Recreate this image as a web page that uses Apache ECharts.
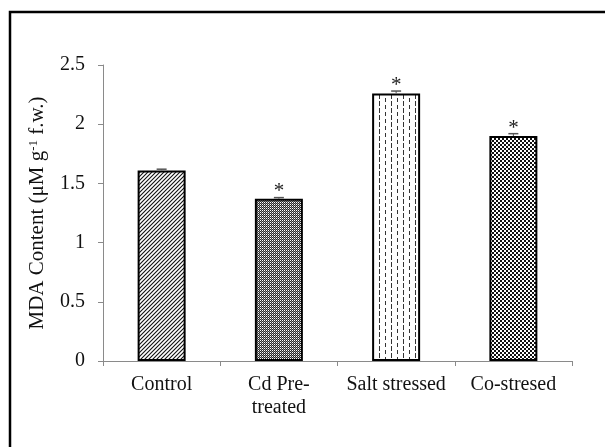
<!DOCTYPE html>
<html>
<head>
<meta charset="utf-8">
<script src="https://cdn.jsdelivr.net/npm/echarts@6/dist/echarts.min.js"></script>
<style>
  html, body { margin: 0; padding: 0; background: #fff; }
  #chart { width: 605px; height: 447px; }
</style>
</head>
<body>
<div id="chart"></div>
<script>
const categories = ['Control', 'Cd Pre-\ntreated', 'Salt stressed', 'Co-stresed'];
const mdaValues = [1.61, 1.37, 2.26, 1.90];
const mdaErrors = [0.01, 0.01, 0.02, 0.02];
const significance = ['', '*', '*', '*'];
const yTicks = [0, 0.5, 1, 1.5, 2, 2.5];

const serif = '"Liberation Serif", "Times New Roman", serif';

// small canvases used as fill patterns for the bars
function tile(w, h, draw) {
  const c = document.createElement('canvas');
  c.width = w;
  c.height = h;
  const ctx = c.getContext('2d');
  ctx.fillStyle = '#fff';
  ctx.fillRect(0, 0, w, h);
  draw(ctx);
  return { image: c, repeat: 'repeat' };
}

const patterns = [
  // diagonal hatch
  tile(4, 4, ctx => {
    ctx.strokeStyle = '#111';
    ctx.lineWidth = 1.1;
    ctx.beginPath();
    ctx.moveTo(-1, 5); ctx.lineTo(5, -1);
    ctx.moveTo(-3, 3); ctx.lineTo(3, -3);
    ctx.moveTo(1, 7); ctx.lineTo(7, 1);
    ctx.stroke();
  }),
  // fine dark dots
  tile(2, 2, ctx => {
    ctx.fillStyle = '#2a2a2a';
    ctx.fillRect(0, 0, 2, 2);
    ctx.fillStyle = '#fff';
    ctx.fillRect(0, 0, 1, 1);
    ctx.fillStyle = '#8a8a8a';
    ctx.fillRect(1, 1, 1, 1);
  }),
  // sparse vertical dashes
  tile(12, 7, ctx => {
    ctx.fillStyle = '#333';
    ctx.fillRect(1, 0, 1, 4);
    ctx.fillRect(7, 3, 1, 4);
    ctx.fillRect(7, 0, 1, 1);
  }),
  // checkerboard
  tile(4, 4, ctx => {
    ctx.fillStyle = '#111';
    ctx.fillRect(0, 0, 2, 2);
    ctx.fillRect(2, 2, 2, 2);
  })
];

const chart = echarts.init(document.getElementById('chart'), null, { renderer: 'canvas' });

chart.setOption({
  animation: false,
  backgroundColor: '#fff',
  textStyle: { fontFamily: serif },
  graphic: [{
    type: 'rect',
    shape: { x: 10, y: 12, width: 700, height: 600 },
    style: { fill: 'none', stroke: '#000', lineWidth: 2.5 },
    silent: true
  }],
  grid: { left: 103, right: 33, top: 65, bottom: 86 },
  xAxis: {
    type: 'category',
    data: categories,
    axisLine: { lineStyle: { color: '#8a8a8a', width: 1 } },
    axisTick: { show: true, length: 5, lineStyle: { color: '#8a8a8a' } },
    axisLabel: {
      color: '#111',
      fontSize: 20,
      fontFamily: serif,
      margin: 12,
      lineHeight: 23,
      interval: 0
    }
  },
  yAxis: {
    type: 'value',
    min: 0,
    max: 2.5,
    interval: 0.5,
    name: 'MDA Content (μM g{sup|-1} f.w.)',
    nameLocation: 'middle',
    nameGap: 55,
    nameTextStyle: {
      color: '#111',
      fontSize: 21,
      fontFamily: serif,
      rich: {
        sup: { fontSize: 13, fontFamily: serif, color: '#111', verticalAlign: 'top', padding: [0, 0, 8, 0] }
      }
    },
    axisLine: { show: true, lineStyle: { color: '#8a8a8a', width: 1 } },
    axisTick: { show: true, length: 5, lineStyle: { color: '#8a8a8a' } },
    splitLine: { show: false },
    axisLabel: {
      color: '#111',
      fontSize: 20,
      fontFamily: serif,
      margin: 18,
      formatter: v => (yTicks.includes(v) ? String(v) : '')
    }
  },
  series: [
    {
      type: 'bar',
      barWidth: 48,
      data: mdaValues.map((v, i) => ({
        value: v,
        itemStyle: { color: patterns[i] }
      })),
      itemStyle: { borderColor: '#000', borderWidth: 2 },
      label: {
        show: true,
        position: 'top',
        distance: -3,
        color: '#222',
        fontSize: 21,
        fontFamily: serif,
        formatter: p => significance[p.dataIndex]
      },
      z: 2
    },
    {
      type: 'custom',
      z: 3,
      data: mdaValues.map((v, i) => [i, v, mdaErrors[i]]),
      renderItem: (params, api) => {
        const x = api.value(0);
        const v = api.value(1);
        const e = api.value(2);
        const top = api.coord([x, v + e]);
        const bot = api.coord([x, v]);
        return {
          type: 'group',
          children: [
            { type: 'line', shape: { x1: top[0], y1: top[1], x2: bot[0], y2: bot[1] }, style: { stroke: '#555', lineWidth: 1 } },
            { type: 'line', shape: { x1: top[0] - 5, y1: top[1], x2: top[0] + 5, y2: top[1] }, style: { stroke: '#555', lineWidth: 1.5 } }
          ]
        };
      }
    }
  ]
});

window.addEventListener('resize', () => chart.resize());
</script>
</body>
</html>
